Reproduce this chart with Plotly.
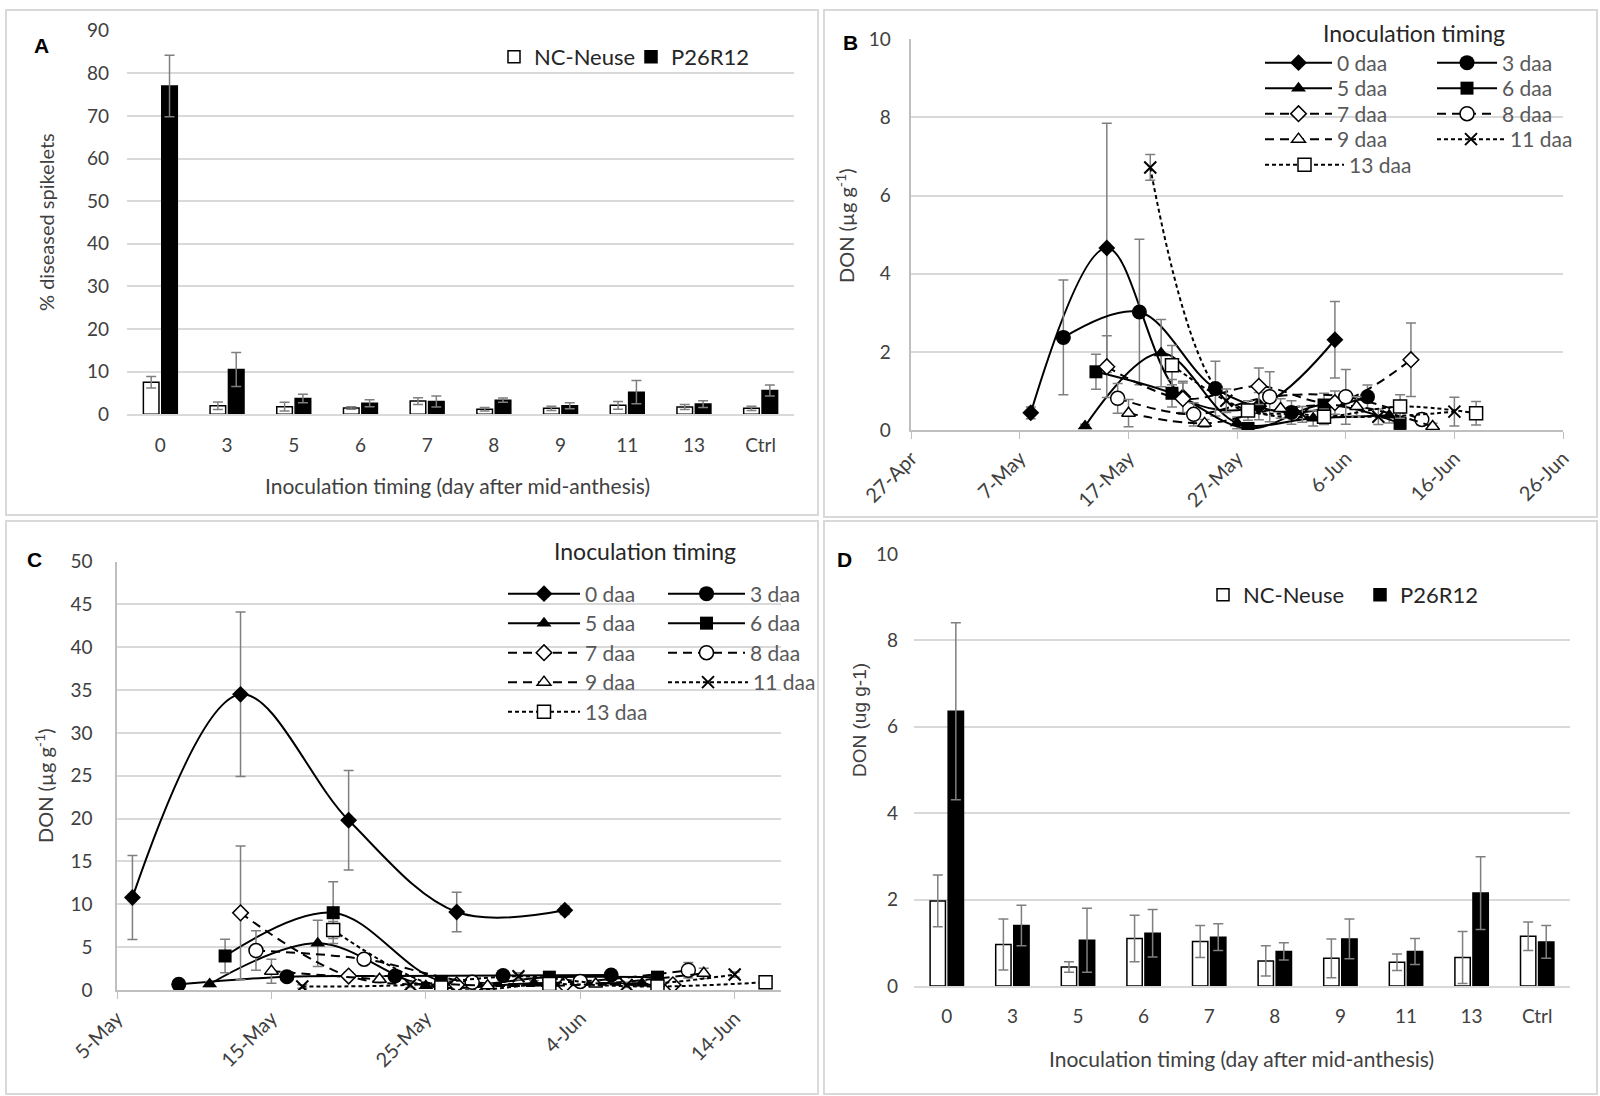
import plotly.graph_objects as go

W, H = 1600, 1096
def px(x):
    return x / W
def py(y):
    return 1 - y / H

# ---------------- Panel A / D data ----------------
categories = ["0", "3", "5", "6", "7", "8", "9", "11", "13", "Ctrl"]
a_nc = [7.5, 2.0, 1.8, 1.5, 3.1, 1.2, 1.4, 2.1, 1.7, 1.4]
a_nc_err = [1.35, 0.9, 1.0, 0.3, 0.8, 0.4, 0.5, 0.9, 0.6, 0.5]
a_p26 = [77.0, 10.5, 3.7, 2.6, 3.0, 3.3, 2.0, 5.2, 2.4, 5.6]
a_p26_err = [7.2, 4.0, 1.0, 0.8, 1.3, 0.5, 0.7, 2.7, 0.8, 1.3]

d_nc = [1.97, 0.96, 0.44, 1.10, 1.03, 0.58, 0.64, 0.55, 0.66, 1.15]
d_nc_err = [0.60, 0.59, 0.12, 0.54, 0.37, 0.35, 0.45, 0.19, 0.60, 0.33]
d_p26 = [6.36, 1.40, 1.06, 1.22, 1.13, 0.80, 1.09, 0.80, 2.15, 1.02]
d_p26_err = [2.05, 0.47, 0.74, 0.55, 0.31, 0.20, 0.46, 0.30, 0.84, 0.38]

# ---------------- Panel B data ----------------
timings = ["0 daa", "3 daa", "5 daa", "6 daa", "7 daa", "8 daa", "9 daa", "11 daa", "13 daa"]

b_dates_0 = ["2018-05-08", "2018-05-15", "2018-05-22", "2018-05-29", "2018-06-05"]
b_vals_0 = [0.44, 4.66, 0.85, 0.61, 2.31]
b_err_0 = [0.15, 3.19, 0.40, 0.35, 0.98]
b_dates_3 = ["2018-05-11", "2018-05-18", "2018-05-25", "2018-06-01", "2018-06-08"]
b_vals_3 = [2.37, 3.02, 1.06, 0.45, 0.85]
b_err_3 = [1.47, 1.86, 0.70, 0.30, 0.30]
b_dates_5 = ["2018-05-13", "2018-05-20", "2018-05-27", "2018-06-03", "2018-06-10"]
b_vals_5 = [0.10, 1.97, 0.18, 0.30, 0.38]
b_err_5 = [0.05, 0.86, 0.15, 0.20, 0.20]
b_dates_6 = ["2018-05-14", "2018-05-21", "2018-05-28", "2018-06-04", "2018-06-11"]
b_vals_6 = [1.49, 0.94, 0.04, 0.64, 0.17]
b_err_6 = [0.45, 0.35, 0.05, 0.30, 0.15]
b_dates_7 = ["2018-05-15", "2018-05-22", "2018-05-29", "2018-06-05", "2018-06-12"]
b_vals_7 = [1.62, 0.80, 1.12, 0.70, 1.80]
b_err_7 = [0.79, 0.40, 0.47, 0.30, 0.94]
b_dates_8 = ["2018-05-16", "2018-05-23", "2018-05-30", "2018-06-06", "2018-06-13"]
b_vals_8 = [0.81, 0.40, 0.85, 0.85, 0.27]
b_err_8 = [0.38, 0.30, 0.64, 0.70, 0.15]
b_dates_9 = ["2018-05-17", "2018-05-24", "2018-05-31", "2018-06-07", "2018-06-14"]
b_vals_9 = [0.43, 0.17, 0.55, 0.60, 0.09]
b_err_9 = [0.35, 0.10, 0.25, 0.25, 0.08]
b_dates_11 = ["2018-05-19", "2018-05-26", "2018-06-02", "2018-06-09", "2018-06-16"]
b_vals_11 = [6.72, 0.75, 0.40, 0.34, 0.47]
b_err_11 = [0.33, 0.30, 0.20, 0.20, 0.37]
b_dates_13 = ["2018-05-21", "2018-05-28", "2018-06-04", "2018-06-11", "2018-06-18"]
b_vals_13 = [1.66, 0.50, 0.34, 0.60, 0.43]
b_err_13 = [0.50, 0.25, 0.20, 0.30, 0.30]

# ---------------- Panel C data ----------------
c_dates_0 = ["2018-05-06", "2018-05-13", "2018-05-20", "2018-05-27", "2018-06-03"]
c_vals_0 = [10.8, 34.5, 19.8, 9.1, 9.3]
c_err_0 = [4.9, 9.6, 5.8, 2.3, 0.5]
c_dates_3 = ["2018-05-09", "2018-05-16", "2018-05-23", "2018-05-30", "2018-06-06"]
c_vals_3 = [0.66, 1.56, 1.63, 1.70, 1.75]
c_err_3 = [0.2, 0.3, 0.3, 0.3, 0.3]
c_dates_5 = ["2018-05-11", "2018-05-18", "2018-05-25", "2018-06-01", "2018-06-08"]
c_vals_5 = [0.70, 5.45, 0.50, 0.80, 0.80]
c_err_5 = [0.3, 2.7, 0.3, 0.3, 0.3]
c_dates_6 = ["2018-05-12", "2018-05-19", "2018-05-26", "2018-06-02", "2018-06-09"]
c_vals_6 = [3.97, 9.02, 1.00, 1.50, 1.50]
c_err_6 = [1.95, 3.6, 0.4, 0.4, 0.4]
c_dates_7 = ["2018-05-13", "2018-05-20", "2018-05-27", "2018-06-03", "2018-06-10"]
c_vals_7 = [9.0, 1.63, 0.60, 0.60, 0.60]
c_err_7 = [7.8, 0.4, 0.3, 0.3, 0.3]
c_dates_8 = ["2018-05-14", "2018-05-21", "2018-05-28", "2018-06-04", "2018-06-11"]
c_vals_8 = [4.6, 3.6, 0.9, 1.0, 2.3]
c_err_8 = [2.3, 0.6, 0.3, 0.3, 0.9]
c_dates_9 = ["2018-05-15", "2018-05-22", "2018-05-29", "2018-06-05", "2018-06-12"]
c_vals_9 = [2.2, 1.25, 0.5, 0.7, 1.95]
c_err_9 = [1.4, 0.4, 0.2, 0.3, 0.6]
c_dates_11 = ["2018-05-17", "2018-05-24", "2018-05-31", "2018-06-07", "2018-06-14"]
c_vals_11 = [0.4, 0.6, 1.6, 0.6, 1.8]
c_err_11 = [0.2, 0.3, 0.4, 0.3, 0.3]
c_dates_13 = ["2018-05-19", "2018-05-26", "2018-06-02", "2018-06-09", "2018-06-16"]
c_vals_13 = [7.0, 0.3, 0.7, 0.4, 0.9]
c_err_13 = [1.0, 0.3, 0.3, 0.3, 0.4]

b_series = [
    (b_dates_0, b_vals_0, b_err_0), (b_dates_3, b_vals_3, b_err_3),
    (b_dates_5, b_vals_5, b_err_5), (b_dates_6, b_vals_6, b_err_6),
    (b_dates_7, b_vals_7, b_err_7), (b_dates_8, b_vals_8, b_err_8),
    (b_dates_9, b_vals_9, b_err_9), (b_dates_11, b_vals_11, b_err_11),
    (b_dates_13, b_vals_13, b_err_13),
]
c_series = [
    (c_dates_0, c_vals_0, c_err_0), (c_dates_3, c_vals_3, c_err_3),
    (c_dates_5, c_vals_5, c_err_5), (c_dates_6, c_vals_6, c_err_6),
    (c_dates_7, c_vals_7, c_err_7), (c_dates_8, c_vals_8, c_err_8),
    (c_dates_9, c_vals_9, c_err_9), (c_dates_11, c_vals_11, c_err_11),
    (c_dates_13, c_vals_13, c_err_13),
]

# ---------------- styles ----------------
FONT = "Lato"
TXT = "#404040"
GRID = "#d9d9d9"
ERR = "#7f7f7f"
LEG = "#595959"

SOLID = "solid"
LDASH = "9px,6px"
SDASH = "4px,3px"
styles = [
    dict(symbol="diamond", size=13, color="black", lw=0, dash=SOLID),
    dict(symbol="circle", size=15, color="black", lw=0, dash=SOLID),
    dict(symbol="triangle-up", size=13, color="black", lw=0, dash=SOLID),
    dict(symbol="square", size=13, color="black", lw=0, dash=SOLID),
    dict(symbol="diamond", size=12, color="white", lw=1.5, dash=LDASH),
    dict(symbol="circle", size=14, color="white", lw=1.5, dash=LDASH),
    dict(symbol="triangle-up", size=12, color="white", lw=1.5, dash=LDASH),
    dict(symbol="x-thin", size=12, color="black", lw=2, dash=SDASH),
    dict(symbol="square", size=13, color="white", lw=1.5, dash=SDASH),
]

# legend grid (column, row) for each timing
leg_col = [0, 1, 0, 1, 0, 1, 0, 1, 0]
leg_row = [0, 0, 1, 1, 2, 2, 3, 3, 4]
# panel B legend geometry (pixels)
b_rows = [63, 88.5, 114, 139.5, 165]
b_colx = [1260, 1432]
b_iw = [67, 60, 67, 60, 67, 60, 67, 68, 79]
# panel C legend geometry (pixels)
c_rows = [594, 623.5, 653, 682.5, 712]
c_colx = [503, 663]
c_iw = [72, 77, 72, 77, 72, 77, 72, 80, 72]

fig = go.Figure()
legends = {}

def small_legend(x, y, iw, size):
    return dict(x=px(x), y=py(y), xanchor="left", yanchor="middle",
                bgcolor="rgba(0,0,0,0)", font=dict(family=FONT, size=size, color=LEG),
                itemwidth=iw, itemclick=False, itemdoubleclick=False)

# ---------------- Panel A bars ----------------
fig.add_trace(go.Bar(
    x=categories, y=a_nc, name="NC-Neuse", xaxis="x", yaxis="y", legend="legend",
    marker=dict(color="white", line=dict(color="black", width=1.5)),
    error_y=dict(type="data", array=a_nc_err, color=ERR, thickness=1.5, width=5)))
fig.add_trace(go.Bar(
    x=categories, y=a_p26, name="P26R12", xaxis="x", yaxis="y", legend="legend",
    marker=dict(color="black", line=dict(color="black", width=1.5)),
    error_y=dict(type="data", array=a_p26_err, color=ERR, thickness=1.5, width=5)))

# ---------------- Panel D bars ----------------
fig.add_trace(go.Bar(
    x=categories, y=d_nc, name="NC-Neuse", xaxis="x4", yaxis="y4", legend="legend2",
    marker=dict(color="white", line=dict(color="black", width=1.5)),
    error_y=dict(type="data", array=d_nc_err, color=ERR, thickness=1.5, width=5)))
fig.add_trace(go.Bar(
    x=categories, y=d_p26, name="P26R12", xaxis="x4", yaxis="y4", legend="legend2",
    marker=dict(color="black", line=dict(color="black", width=1.5)),
    error_y=dict(type="data", array=d_p26_err, color=ERR, thickness=1.5, width=5)))

# ---------------- Panels B and C lines ----------------
def add_lines(series, xa, ya, first_leg, rows, colx, iws, size):
    for i, (dates, vals, errs) in enumerate(series):
        st = styles[i]
        lid = f"legend{first_leg + i}"
        legends[lid] = small_legend(colx[leg_col[i]], rows[leg_row[i]], iws[i], size)
        fig.add_trace(go.Scatter(
            x=dates, y=vals, name=timings[i], xaxis=xa, yaxis=ya, legend=lid,
            mode="lines+markers",
            line=dict(color="black", width=2, dash=st["dash"], shape="spline", smoothing=1),
            marker=dict(symbol=st["symbol"], size=st["size"], color=st["color"],
                        line=dict(color="black", width=st["lw"])),
            error_y=dict(type="data", array=errs, color=ERR, thickness=1.5, width=5),
        ))

add_lines(b_series, "x2", "y2", 3, b_rows, b_colx, b_iw, 21)
add_lines(c_series, "x3", "y3", 12, c_rows, c_colx, c_iw, 21)

tickfont = dict(family=FONT, size=19, color=TXT)
datefont = dict(family=FONT, size=20, color=TXT)

def bar_legend(x, y, ew):
    return dict(x=px(x), y=py(y), xanchor="left", yanchor="middle", orientation="h",
                bgcolor="rgba(0,0,0,0)", font=dict(family=FONT, size=22, color="#262626"),
                itemwidth=30, traceorder="normal", entrywidth=ew, entrywidthmode="pixels",
                itemclick=False, itemdoubleclick=False)

layout = dict(
    width=W, height=H, margin=dict(l=0, r=0, t=0, b=0, autoexpand=False),
    paper_bgcolor="white", plot_bgcolor="white",
    barmode="group", bargap=0.45, bargroupgap=0.15,
    font=dict(family=FONT, color=TXT),
    # Panel A axes
    xaxis=dict(domain=[px(127), px(794)], anchor="y", type="category", automargin=False,
               showline=True, linecolor=GRID, linewidth=1.5, ticks="",
               ticklabelstandoff=13, tickfont=tickfont, showgrid=False),
    yaxis=dict(domain=[py(414.3), py(30.6)], anchor="x", range=[0, 90], dtick=10,
               automargin=False, ticklabelstandoff=17,
               showgrid=True, gridcolor=GRID, gridwidth=1.5, zeroline=False,
               showline=False, tickfont=tickfont, ticks=""),
    # Panel B axes
    xaxis2=dict(domain=[px(911.3), px(1563)], anchor="y2", type="date", automargin=False,
                range=["2018-04-27", "2018-06-26"], tick0="2018-04-27", dtick=864000000,
                tickformat="%-d-%b", tickangle=-45, ticks="outside", ticklen=7,
                tickcolor="#bfbfbf", showline=True, linecolor="#bfbfbf", linewidth=1.5,
                showgrid=False, tickfont=datefont),
    yaxis2=dict(domain=[py(430), py(39.3)], anchor="x2", range=[0, 10], dtick=2,
                automargin=False, ticklabelstandoff=15,
                showgrid=True, gridcolor=GRID, gridwidth=1.5, zeroline=False,
                showline=True, linecolor="#bfbfbf", linewidth=1.5, tickfont=tickfont),
    # Panel C axes
    xaxis3=dict(domain=[px(117), px(781)], anchor="y3", type="date", automargin=False,
                range=["2018-05-05", "2018-06-17"], tick0="2018-05-05", dtick=864000000,
                tickformat="%-d-%b", tickangle=-45, ticks="outside", ticklen=7,
                tickcolor="#bfbfbf", showline=True, linecolor="#bfbfbf", linewidth=1.5,
                showgrid=False, tickfont=datefont),
    yaxis3=dict(domain=[py(990), py(561.5)], anchor="x3", range=[0, 50], dtick=5,
                automargin=False, ticklabelstandoff=19,
                showgrid=True, gridcolor=GRID, gridwidth=1.5, zeroline=False,
                showline=True, linecolor="#bfbfbf", linewidth=1.5, tickfont=tickfont),
    # Panel D axes
    xaxis4=dict(domain=[px(914), px(1570)], anchor="y4", type="category", automargin=False,
                showline=True, linecolor=GRID, linewidth=1.5, ticks="",
                ticklabelstandoff=12, tickfont=tickfont, showgrid=False),
    yaxis4=dict(domain=[py(986), py(554)], anchor="x4", range=[0, 10], dtick=2,
                automargin=False, ticklabelstandoff=15,
                showgrid=True, gridcolor=GRID, gridwidth=1.5, zeroline=False,
                showline=False, tickfont=tickfont),
    legend=bar_legend(494, 57, 92),
    legend2=bar_legend(1203, 595, 112),
)
layout.update(legends)
fig.update_layout(**layout)

# ---------------- annotations ----------------
def ann(text, x, y, size=20, angle=0, bold=False, family=FONT, color=TXT, xanchor="center"):
    fig.add_annotation(text=f"<b>{text}</b>" if bold else text, x=px(x), y=py(y),
                       xref="paper", yref="paper", showarrow=False, textangle=angle,
                       xanchor=xanchor, yanchor="middle",
                       font=dict(family=family, size=size, color=color))

ann("A", 41, 46, size=21, bold=True, family="Liberation Sans", color="black")
ann("B", 850, 42, size=21, bold=True, family="Liberation Sans", color="black")
ann("C", 34, 559, size=21, bold=True, family="Liberation Sans", color="black")
ann("D", 845, 559, size=21, bold=True, family="Liberation Sans", color="black")

ann("% diseased spikelets", 46, 222, size=20, angle=-90)
ann("Inoculation timing (day after mid-anthesis)", 457, 485, size=21)
ann("DON (µg g<sup>-1</sup>)", 845, 225, size=20, angle=-90)
ann("Inoculation timing", 1414, 33, size=23, color="#262626")
ann("DON (µg g<sup>-1</sup>)", 44, 786, size=20, angle=-90)
ann("Inoculation timing", 645, 551, size=23, color="#262626")
ann("DON (ug g-1)", 859, 720, size=19, angle=-90, family="Liberation Sans")
ann("Inoculation timing (day after mid-anthesis)", 1241, 1058, size=21)

# ---------------- panel frames ----------------
for (x0, y0, x1, y1) in [(6, 10, 818, 515), (824, 10, 1597, 517),
                         (6, 521, 818, 1094), (824, 521, 1597, 1094)]:
    fig.add_shape(type="rect", xref="paper", yref="paper",
                  x0=px(x0), x1=px(x1), y0=py(y1), y1=py(y0),
                  line=dict(color=GRID, width=2), fillcolor="rgba(0,0,0,0)", layer="below")

fig.write_html("out.html", config={"displayModeBar": False},
               post_script="document.body.style.margin='0px';")
